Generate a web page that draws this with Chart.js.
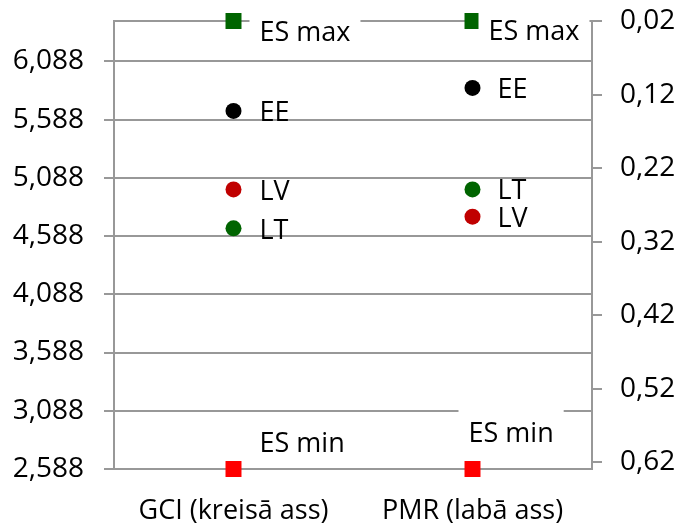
<!DOCTYPE html>
<html>
<head>
<meta charset="utf-8">
<script src="https://cdn.jsdelivr.net/npm/chart.js@4/dist/chart.umd.min.js"></script>
<style>
  html, body { margin: 0; padding: 0; background: #ffffff; }
  #wrap { width: 681px; height: 525px; }
</style>
</head>
<body>
<div id="wrap"><canvas id="c" width="681" height="525"></canvas></div>
<script>
// ---- data ----
const categories = ['GCI (kreisā ass)', 'PMR (labā ass)'];
const seriesNames = ['ES max', 'EE', 'LV', 'LT', 'ES min'];
// values: [GCI (left axis), PMR (right axis)]
const esMax = [6.434, 0.02];
const ee    = [5.662, 0.111];
const lv    = [4.988, 0.286];
const lt    = [4.654, 0.249];
const esMin = [2.588, 0.629];

const leftTicks = [2.588, 3.088, 3.588, 4.088, 4.588, 5.088, 5.588, 6.088];
const leftTickLabels = ['2,588', '3,088', '3,588', '4,088', '4,588', '5,088', '5,588', '6,088'];
const rightTicks = [0.02, 0.12, 0.22, 0.32, 0.42, 0.52, 0.62];
const rightTickLabels = ['0,02', '0,12', '0,22', '0,32', '0,42', '0,52', '0,62'];
const leftRange = [2.588, 6.434];
const rightRange = [0.02, 0.629];

// ---- styles ----
const GRID = '#989898';
const FONT = "'Open Sans', 'DejaVu Sans', sans-serif";
const seriesStyle = {
  'ES max': { color: '#006400', style: 'rect', radius: 11.3 },
  'EE':     { color: '#000000', style: 'circle', radius: 8 },
  'LV':     { color: '#c00000', style: 'circle', radius: 8 },
  'LT':     { color: '#006400', style: 'circle', radius: 8 },
  'ES min': { color: '#ff0000', style: 'rect', radius: 11.3 }
};
const seriesValues = { 'ES max': esMax, 'EE': ee, 'LV': lv, 'LT': lt, 'ES min': esMin };
// label offsets [dx to text left, dy to baseline] per category
const labelOffsets = {
  'ES max': [[26, 19.5], [16, 19]],
  'EE':     [[26, 10], [25, 10]],
  'LV':     [[26, 10.5], [25, 10]],
  'LT':     [[26, 11], [25, 10]],
  'ES min': [[26, -17], [-4, -27]]
};
const boxedLabels = ['ES max', 'ES min'];

const datasets = [];
seriesNames.forEach(name => {
  const vals = seriesValues[name];
  const st = seriesStyle[name];
  [0, 1].forEach(ci => {
    const data = categories.map((_, k) => (k === ci ? vals[ci] : null));
    datasets.push({
      label: name,
      seriesName: name,
      catIndex: ci,
      data: data,
      yAxisID: ci === 0 ? 'y' : 'y1',
      showLine: false,
      pointStyle: st.style,
      pointRadius: st.radius,
      pointHoverRadius: st.radius,
      pointBackgroundColor: st.color,
      pointBorderColor: st.color,
      pointBorderWidth: 0,
      backgroundColor: st.color,
      borderColor: st.color,
      clip: false
    });
  });
});

const borderPlugin = {
  id: 'topBorder',
  beforeDatasetsDraw(chart) {
    const { ctx, chartArea } = chart;
    ctx.save();
    ctx.strokeStyle = GRID;
    ctx.lineWidth = 2;
    ctx.beginPath();
    ctx.moveTo(chartArea.left, Math.round(chartArea.top));
    ctx.lineTo(chartArea.right, Math.round(chartArea.top));
    ctx.stroke();
    ctx.restore();
  }
};

const labelPlugin = {
  id: 'pointLabels',
  afterDatasetsDraw(chart) {
    const ctx = chart.ctx;
    ctx.save();
    ctx.font = '27px ' + FONT;
    ctx.textBaseline = 'alphabetic';
    ctx.textAlign = 'left';
    chart.data.datasets.forEach((ds, i) => {
      const meta = chart.getDatasetMeta(i);
      const ci = ds.catIndex;
      const el = meta.data[ci];
      if (!el || ds.data[ci] == null) return;
      const off = labelOffsets[ds.seriesName][ci];
      const tx = el.x + off[0];
      const ty = el.y + off[1];
      const text = ds.seriesName;
      if (boxedLabels.includes(text)) {
        const w = ctx.measureText(text).width;
        ctx.fillStyle = '#ffffff';
        ctx.fillRect(tx - 10, ty - 34, w + 20, 44);
      }
      ctx.fillStyle = '#000000';
      ctx.fillText(text, tx, ty);
    });
    ctx.restore();
  }
};

function noPad(s) {
  s.paddingTop = 0;
  s.paddingBottom = 0;
  s.paddingLeft = 0;
  s.paddingRight = 0;
}

function start() {
  Chart.defaults.font.family = FONT;
  Chart.defaults.font.size = 27;
  Chart.defaults.color = '#000000';
  new Chart(document.getElementById('c'), {
    type: 'line',
    data: { labels: categories, datasets: datasets },
    plugins: [borderPlugin, labelPlugin],
    options: {
      responsive: false,
      animation: false,
      events: [],
      layout: { autoPadding: false, padding: { top: 21, left: 0, right: 0, bottom: 0 } },
      plugins: { legend: { display: false }, tooltip: { enabled: false } },
      scales: {
        x: {
          type: 'category',
          offset: true,
          grid: { display: false },
          border: { display: false },
          ticks: { padding: 18, color: '#000000', maxRotation: 0, autoSkip: false },
          afterFit(s) { s.height = 56; noPad(s); }
        },
        y: {
          type: 'linear',
          position: 'left',
          min: leftRange[0],
          max: leftRange[1],
          afterBuildTicks(s) { s.ticks = leftTicks.map(v => ({ value: v })); },
          ticks: {
            autoSkip: false,
            padding: 20,
            color: '#000000',
            font: { size: 28 },
            callback: (v, i) => leftTickLabels[i]
          },
          grid: { color: GRID, lineWidth: 2, tickLength: 10, drawTicks: true },
          border: { display: true, color: GRID, width: 2 },
          afterFit(s) { s.width = 114; noPad(s); }
        },
        y1: {
          type: 'linear',
          position: 'right',
          reverse: true,
          min: rightRange[0],
          max: rightRange[1],
          afterBuildTicks(s) { s.ticks = rightTicks.map(v => ({ value: v })); },
          ticks: {
            autoSkip: false,
            padding: 18,
            color: '#000000',
            font: { size: 28 },
            callback: (v, i) => rightTickLabels[i]
          },
          grid: { color: GRID, lineWidth: 2, tickLength: 10, drawTicks: true, drawOnChartArea: false },
          border: { display: true, color: GRID, width: 2 },
          afterFit(s) { s.width = 89; noPad(s); }
        }
      }
    }
  });
}

if (document.fonts && document.fonts.load) {
  document.fonts.load('27px "Open Sans"').then(start, start);
} else {
  start();
}
</script>
</body>
</html>
